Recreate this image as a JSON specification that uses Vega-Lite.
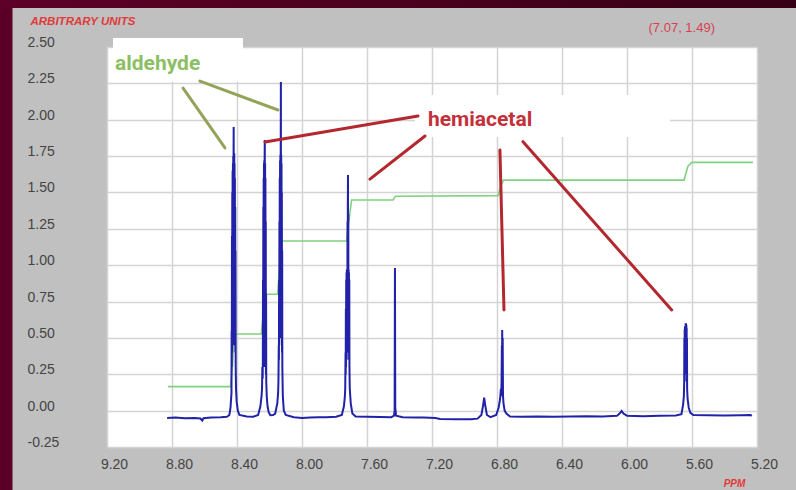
{
  "$schema": "https://vega.github.io/schema/vega-lite/v6.json",
  "width": 650,
  "height": 400,
  "autosize": {"type": "none"},
  "padding": {"left": 107, "top": 47, "right": 39, "bottom": 43},
  "background": "#c0c0c0",
  "config": {"view": {"fill": "#ffffff", "stroke": null}, "font": "Liberation Sans"},
  "datasets": {
    "frameLeft": [
      {"x": 9.86, "x2": 9.7815, "y": 2.83, "y2": -0.55}
    ],
    "frameTop": [
      {"x": 9.86, "x2": 4.95, "y": 2.83, "y2": 2.768}
    ],
    "boxes": [
      {"x": 9.163, "x2": 8.363, "y": 2.562, "y2": 2.262},
      {"x": 7.305, "x2": 5.735, "y": 2.17, "y2": 1.881}
    ],
    "readout": [
      {"x": 5.663, "y": 2.631, "text": "(7.07, 1.49)"}
    ],
    "integral": [
      {"x": 8.825, "y": 0.165}, {"x": 8.44, "y": 0.165}, {"x": 8.428, "y": 0.3}, {"x": 8.418, "y": 0.5}, {"x": 8.405, "y": 0.527},
      {"x": 8.25, "y": 0.527}, {"x": 8.236, "y": 0.7}, {"x": 8.228, "y": 0.8}, {"x": 8.15, "y": 0.8}, {"x": 8.137, "y": 1.0},
      {"x": 8.128, "y": 1.166}, {"x": 7.726, "y": 1.166}, {"x": 7.712, "y": 1.3}, {"x": 7.695, "y": 1.448}, {"x": 7.44, "y": 1.448},
      {"x": 7.425, "y": 1.474}, {"x": 6.794, "y": 1.478}, {"x": 6.775, "y": 1.55}, {"x": 6.76, "y": 1.585}, {"x": 5.649, "y": 1.585},
      {"x": 5.625, "y": 1.68}, {"x": 5.6, "y": 1.707}, {"x": 5.225, "y": 1.707}
    ],
    "spectrum": [
      {"x": 8.83, "y": -0.05}, {"x": 8.78, "y": -0.048}, {"x": 8.72, "y": -0.052}, {"x": 8.66, "y": -0.05}, {"x": 8.625, "y": -0.054},
      {"x": 8.614, "y": -0.068}, {"x": 8.606, "y": -0.052}, {"x": 8.56, "y": -0.048}, {"x": 8.5, "y": -0.046}, {"x": 8.462, "y": -0.042},
      {"x": 8.447, "y": -0.03}, {"x": 8.44, "y": 0.02}, {"x": 8.434, "y": 0.12}, {"x": 8.433, "y": 0.55}, {"x": 8.432, "y": 0.3},
      {"x": 8.431, "y": 1.2}, {"x": 8.43, "y": 0.4}, {"x": 8.429, "y": 1.5}, {"x": 8.428, "y": 0.5}, {"x": 8.427, "y": 1.65},
      {"x": 8.426, "y": 0.45}, {"x": 8.425, "y": 1.7}, {"x": 8.424, "y": 0.6}, {"x": 8.423, "y": 1.75}, {"x": 8.422, "y": 0.55},
      {"x": 8.421, "y": 1.77}, {"x": 8.4205, "y": 1.95}, {"x": 8.42, "y": 0.6}, {"x": 8.419, "y": 1.76}, {"x": 8.418, "y": 0.5},
      {"x": 8.417, "y": 1.77}, {"x": 8.416, "y": 0.45}, {"x": 8.415, "y": 1.7}, {"x": 8.414, "y": 0.55}, {"x": 8.413, "y": 1.6},
      {"x": 8.412, "y": 0.5}, {"x": 8.411, "y": 1.4}, {"x": 8.41, "y": 0.4}, {"x": 8.409, "y": 1.1}, {"x": 8.408, "y": 0.3},
      {"x": 8.406, "y": 0.15}, {"x": 8.402, "y": 0.06}, {"x": 8.395, "y": 0.0}, {"x": 8.385, "y": -0.03},
      {"x": 8.34, "y": -0.04}, {"x": 8.3, "y": -0.042},
      {"x": 8.27, "y": -0.03}, {"x": 8.256, "y": 0.03}, {"x": 8.249, "y": 0.1}, {"x": 8.246, "y": 0.15}, {"x": 8.244, "y": 0.3},
      {"x": 8.242, "y": 0.22}, {"x": 8.241, "y": 0.35}, {"x": 8.24, "y": 0.9}, {"x": 8.239, "y": 0.3}, {"x": 8.238, "y": 1.4},
      {"x": 8.237, "y": 0.35}, {"x": 8.236, "y": 1.6}, {"x": 8.235, "y": 0.3}, {"x": 8.234, "y": 1.7}, {"x": 8.233, "y": 0.4},
      {"x": 8.232, "y": 1.72}, {"x": 8.231, "y": 0.35}, {"x": 8.23, "y": 1.72}, {"x": 8.229, "y": 1.86}, {"x": 8.228, "y": 0.4},
      {"x": 8.227, "y": 1.7}, {"x": 8.226, "y": 0.35}, {"x": 8.225, "y": 1.6}, {"x": 8.224, "y": 0.3}, {"x": 8.223, "y": 1.3},
      {"x": 8.222, "y": 0.25}, {"x": 8.221, "y": 0.8}, {"x": 8.22, "y": 0.2}, {"x": 8.217, "y": 0.1}, {"x": 8.212, "y": 0.03},
      {"x": 8.205, "y": -0.01}, {"x": 8.195, "y": -0.032},
      {"x": 8.178, "y": -0.03}, {"x": 8.165, "y": -0.02}, {"x": 8.152, "y": 0.05}, {"x": 8.147, "y": 0.12}, {"x": 8.145, "y": 0.2},
      {"x": 8.143, "y": 0.45}, {"x": 8.142, "y": 0.35}, {"x": 8.141, "y": 0.9}, {"x": 8.14, "y": 0.45}, {"x": 8.139, "y": 1.3},
      {"x": 8.138, "y": 0.5}, {"x": 8.137, "y": 1.6}, {"x": 8.136, "y": 0.5}, {"x": 8.135, "y": 1.72}, {"x": 8.134, "y": 0.55},
      {"x": 8.133, "y": 1.76}, {"x": 8.132, "y": 0.55}, {"x": 8.131, "y": 1.76}, {"x": 8.13, "y": 2.26}, {"x": 8.129, "y": 0.6},
      {"x": 8.128, "y": 1.76}, {"x": 8.127, "y": 0.5}, {"x": 8.126, "y": 1.7}, {"x": 8.125, "y": 0.5}, {"x": 8.124, "y": 1.5},
      {"x": 8.123, "y": 0.4}, {"x": 8.122, "y": 1.1}, {"x": 8.121, "y": 0.3}, {"x": 8.118, "y": 0.1}, {"x": 8.112, "y": 0.0},
      {"x": 8.1, "y": -0.03},
      {"x": 8.05, "y": -0.045}, {"x": 8.0, "y": -0.05}, {"x": 7.95, "y": -0.048}, {"x": 7.9, "y": -0.046},
      {"x": 7.85, "y": -0.045}, {"x": 7.79, "y": -0.042}, {"x": 7.755, "y": -0.03}, {"x": 7.742, "y": 0.03}, {"x": 7.736, "y": 0.1},
      {"x": 7.734, "y": 0.15}, {"x": 7.732, "y": 0.4}, {"x": 7.731, "y": 0.25}, {"x": 7.73, "y": 0.7}, {"x": 7.729, "y": 0.3},
      {"x": 7.728, "y": 0.9}, {"x": 7.727, "y": 0.35}, {"x": 7.726, "y": 0.95}, {"x": 7.725, "y": 0.35}, {"x": 7.724, "y": 0.97},
      {"x": 7.723, "y": 0.4}, {"x": 7.722, "y": 0.97}, {"x": 7.721, "y": 0.4}, {"x": 7.72, "y": 1.3}, {"x": 7.719, "y": 0.45},
      {"x": 7.718, "y": 1.38}, {"x": 7.717, "y": 1.62}, {"x": 7.716, "y": 0.5}, {"x": 7.715, "y": 1.35}, {"x": 7.714, "y": 0.45},
      {"x": 7.713, "y": 0.97}, {"x": 7.712, "y": 0.4}, {"x": 7.711, "y": 0.95}, {"x": 7.71, "y": 0.35}, {"x": 7.709, "y": 0.9},
      {"x": 7.708, "y": 0.3}, {"x": 7.706, "y": 0.15}, {"x": 7.7, "y": 0.05}, {"x": 7.69, "y": -0.02},
      {"x": 7.67, "y": -0.04}, {"x": 7.6, "y": -0.042}, {"x": 7.52, "y": -0.044},
      {"x": 7.45, "y": -0.045}, {"x": 7.434, "y": -0.035}, {"x": 7.43, "y": 0.0}, {"x": 7.428, "y": 0.98}, {"x": 7.426, "y": 0.02},
      {"x": 7.421, "y": -0.035}, {"x": 7.38, "y": -0.045}, {"x": 7.3, "y": -0.048}, {"x": 7.25, "y": -0.047}, {"x": 7.18, "y": -0.05},
      {"x": 7.15, "y": -0.058}, {"x": 7.05, "y": -0.06}, {"x": 6.96, "y": -0.06}, {"x": 6.92, "y": -0.055}, {"x": 6.896, "y": -0.03},
      {"x": 6.885, "y": 0.04}, {"x": 6.879, "y": 0.09}, {"x": 6.873, "y": 0.04}, {"x": 6.862, "y": -0.03}, {"x": 6.84, "y": -0.045},
      {"x": 6.805, "y": -0.03}, {"x": 6.79, "y": 0.02}, {"x": 6.781, "y": 0.08}, {"x": 6.776, "y": 0.15}, {"x": 6.774, "y": 0.1},
      {"x": 6.772, "y": 0.2}, {"x": 6.77, "y": 0.45}, {"x": 6.769, "y": 0.15}, {"x": 6.768, "y": 0.555}, {"x": 6.767, "y": 0.15},
      {"x": 6.765, "y": 0.5}, {"x": 6.763, "y": 0.1}, {"x": 6.76, "y": 0.05}, {"x": 6.753, "y": 0.0}, {"x": 6.742, "y": -0.02},
      {"x": 6.72, "y": -0.04}, {"x": 6.65, "y": -0.042}, {"x": 6.55, "y": -0.04}, {"x": 6.45, "y": -0.042},
      {"x": 6.35, "y": -0.04}, {"x": 6.25, "y": -0.038}, {"x": 6.15, "y": -0.04}, {"x": 6.062, "y": -0.036}, {"x": 6.044, "y": -0.018},
      {"x": 6.033, "y": -0.002}, {"x": 6.022, "y": -0.02}, {"x": 6.0, "y": -0.035}, {"x": 5.9, "y": -0.038}, {"x": 5.8, "y": -0.036},
      {"x": 5.7, "y": -0.034}, {"x": 5.665, "y": -0.025}, {"x": 5.655, "y": 0.04}, {"x": 5.65, "y": 0.1}, {"x": 5.648, "y": 0.2},
      {"x": 5.647, "y": 0.5}, {"x": 5.646, "y": 0.2}, {"x": 5.645, "y": 0.56}, {"x": 5.644, "y": 0.25}, {"x": 5.643, "y": 0.58},
      {"x": 5.642, "y": 0.25}, {"x": 5.641, "y": 0.58}, {"x": 5.64, "y": 0.3}, {"x": 5.639, "y": 0.6}, {"x": 5.638, "y": 0.3},
      {"x": 5.637, "y": 0.6}, {"x": 5.636, "y": 0.3}, {"x": 5.635, "y": 0.59}, {"x": 5.634, "y": 0.25}, {"x": 5.633, "y": 0.57},
      {"x": 5.632, "y": 0.2}, {"x": 5.631, "y": 0.5}, {"x": 5.63, "y": 0.15}, {"x": 5.627, "y": 0.08}, {"x": 5.62, "y": 0.02},
      {"x": 5.61, "y": -0.015}, {"x": 5.592, "y": -0.03}, {"x": 5.5, "y": -0.032}, {"x": 5.4, "y": -0.033},
      {"x": 5.3, "y": -0.032}, {"x": 5.24, "y": -0.03}, {"x": 5.232, "y": -0.036}
    ],
    "pointers": [
      {"x": 8.732, "y": 2.218, "x2": 8.474, "y2": 1.806, "kind": "aldehyde"},
      {"x": 8.628, "y": 2.266, "x2": 8.148, "y2": 2.067, "kind": "aldehyde"},
      {"x": 8.228, "y": 1.847, "x2": 7.286, "y2": 2.026, "kind": "hemiacetal"},
      {"x": 7.582, "y": 1.592, "x2": 7.243, "y2": 1.888, "kind": "hemiacetal"},
      {"x": 6.782, "y": 1.792, "x2": 6.757, "y2": 0.692, "kind": "hemiacetal"},
      {"x": 6.64, "y": 1.849, "x2": 5.725, "y2": 0.692, "kind": "hemiacetal"}
    ],
    "labels": [
      {"x": 9.151, "y": 2.342, "text": "aldehyde", "kind": "aldehyde"},
      {"x": 7.225, "y": 1.957, "text": "hemiacetal", "kind": "hemiacetal"}
    ]
  },
  "encoding": {
    "x": {
      "field": "x", "type": "quantitative",
      "scale": {"domain": [5.2, 9.2], "reverse": true, "nice": false, "zero": false},
      "axis": {
        "values": [9.2, 8.8, 8.4, 8.0, 7.6, 7.2, 6.8, 6.4, 6.0, 5.6, 5.2], "format": ".2f",
        "ticks": false, "tickSize": 0, "domain": false, "grid": true, "gridColor": "#d4d4d4", "gridWidth": 1.5,
        "labelFont": "Liberation Sans", "labelFontSize": 14, "labelColor": "#444444", "labelPadding": 10, "labelOffset": 7,
        "labelFlush": false, "labelOverlap": false,
        "title": "PPM", "titleX": 627, "titleY": 36, "titleAlign": "center", "titleBaseline": "middle",
        "titleFont": "Liberation Sans", "titleFontSize": 10, "titleFontStyle": "italic", "titleFontWeight": "bold", "titleColor": "#e03a3a"
      }
    },
    "y": {
      "field": "y", "type": "quantitative",
      "scale": {"domain": [-0.25, 2.5], "nice": false, "zero": false},
      "axis": {
        "values": [-0.25, 0, 0.25, 0.5, 0.75, 1.0, 1.25, 1.5, 1.75, 2.0, 2.25, 2.5],
        "labelExpr": "datum.value < 0 ? '-' + format(-datum.value, '.2f') : format(datum.value, '.2f')",
        "ticks": false, "tickSize": 0, "domain": false, "grid": true, "gridColor": "#d4d4d4", "gridWidth": 1.5,
        "labelFont": "Liberation Sans", "labelFontSize": 14, "labelColor": "#444444", "labelAlign": "left", "labelBaseline": "middle",
        "labelPadding": 80, "labelOffset": -4.5, "labelFlush": false, "labelOverlap": false,
        "title": "ARBITRARY UNITS", "titleAngle": 0, "titleX": -77, "titleY": -25.5, "titleAlign": "left", "titleBaseline": "middle",
        "titleFont": "Liberation Sans", "titleFontSize": 11.5, "titleFontStyle": "italic", "titleFontWeight": "bold", "titleColor": "#e03a3a"
      }
    }
  },
  "layer": [
    {
      "data": {"name": "frameLeft"},
      "mark": {"type": "rect", "clip": false, "fill": "#5a0026", "stroke": null},
      "encoding": {"x2": {"field": "x2"}, "y2": {"field": "y2"}}
    },
    {
      "data": {"name": "frameTop"},
      "mark": {
        "type": "rect", "clip": false, "stroke": null,
        "fill": {"gradient": "linear", "x1": 0, "y1": 0, "x2": 1, "y2": 0, "stops": [{"offset": 0, "color": "#5e0028"}, {"offset": 1, "color": "#360014"}]}
      },
      "encoding": {"x2": {"field": "x2"}, "y2": {"field": "y2"}}
    },
    {
      "data": {"name": "boxes"},
      "mark": {"type": "rect", "clip": false, "fill": "#ffffff", "stroke": null},
      "encoding": {"x2": {"field": "x2"}, "y2": {"field": "y2"}}
    },
    {
      "data": {"name": "integral"},
      "mark": {"type": "line", "color": "#7fd27f", "strokeWidth": 1.6},
      "encoding": {}
    },
    {
      "data": {"name": "spectrum"},
      "mark": {"type": "line", "color": "#2222a8", "strokeWidth": 2},
      "encoding": {}
    },
    {
      "data": {"name": "pointers"},
      "mark": {"type": "rule", "strokeWidth": 3, "strokeCap": "round"},
      "encoding": {
        "x2": {"field": "x2"}, "y2": {"field": "y2"},
        "stroke": {"field": "kind", "type": "nominal", "scale": {"domain": ["aldehyde", "hemiacetal"], "range": ["#93a35a", "#b3282e"]}, "legend": null}
      }
    },
    {
      "data": {"name": "labels"},
      "mark": {"type": "text", "align": "left", "baseline": "alphabetic", "font": "Roboto", "fontWeight": "bold", "fontSize": 21},
      "encoding": {
        "text": {"field": "text"},
        "fill": {"field": "kind", "type": "nominal", "scale": {"domain": ["aldehyde", "hemiacetal"], "range": ["#8cbf63", "#c4303a"]}, "legend": null}
      }
    },
    {
      "data": {"name": "readout"},
      "mark": {"type": "text", "align": "center", "baseline": "middle", "font": "Liberation Sans", "fontSize": 13, "fill": "#d84050"},
      "encoding": {"text": {"field": "text"}}
    }
  ]
}
